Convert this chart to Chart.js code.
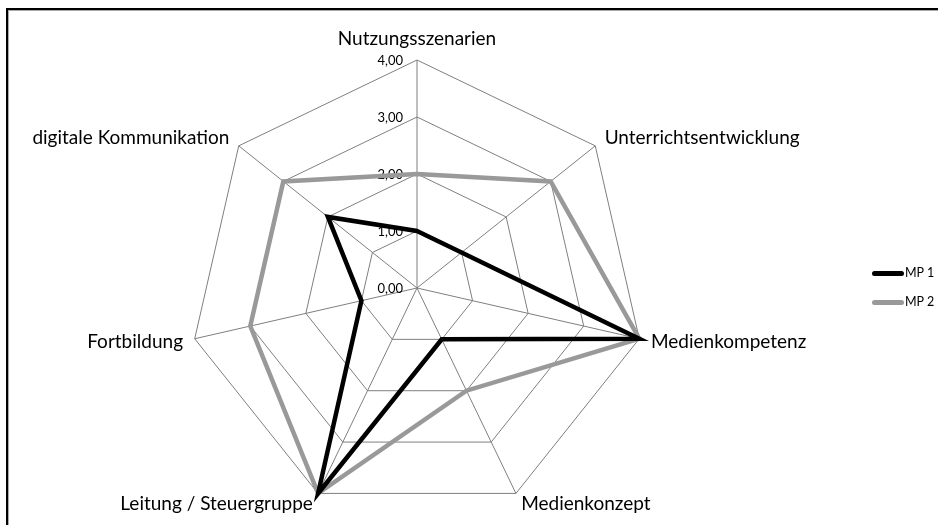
<!DOCTYPE html>
<html>
<head>
<meta charset="utf-8">
<script src="https://cdn.jsdelivr.net/npm/chart.js@4/dist/chart.umd.min.js"></script>
<style>
  html, body { margin: 0; padding: 0; background: #fff; }
  #wrap { position: relative; width: 938px; height: 525px; overflow: hidden; font-family: Lato, sans-serif; }
  #frame { position: absolute; left: 6px; top: 8px; width: 1000px; height: 600px;
           border-left: 2px solid #000; border-top: 2px solid #000; }
  #frame2 { position: absolute; left: 8px; top: 10px; width: 1000px; height: 600px;
            border-left: 1px solid #aaa; border-top: 1px solid #aaa; }
  canvas { position: absolute; left: 0; top: 0; }
  .leg { position: absolute; left: 872px; font-size: 12.5px; color: #000; line-height: 14px; }
  .leg span.ln { display: inline-block; width: 32px; height: 5px; border-radius: 3px; vertical-align: middle; margin-right: 1px; }
</style>
</head>
<body>
<div id="wrap">
  <div id="frame"></div>
  <div id="frame2"></div>
  <canvas id="radar" width="938" height="525"></canvas>
  <div class="leg" style="top:266px"><span class="ln" style="background:#000"></span>MP 1</div>
  <div class="leg" style="top:295px"><span class="ln" style="background:#999"></span>MP 2</div>
</div>
<script>
var labels = ["Nutzungsszenarien", "Unterrichtsentwicklung", "Medienkompetenz", "Medienkonzept",
              "Leitung / Steuergruppe", "Fortbildung", "digitale Kommunikation"];
var mp1 = [1, 1, 4, 1, 4, 1, 2];
var mp2 = [2, 3, 4, 2, 4, 3, 3];
var tickValues = [0, 1, 2, 3, 4];

// tick labels left of the vertical axis, category labels placed like the original
var labelPlugin = {
  id: "labels",
  beforeDatasetsDraw: function(chart) {
    var scale = chart.scales.r;
    var ctx = chart.ctx;
    var i, p, s;
    ctx.save();
    ctx.fillStyle = "#000";

    ctx.font = "13px Lato";
    ctx.textAlign = "right";
    ctx.textBaseline = "middle";
    tickValues.forEach(function(v) {
      p = scale.getPointPositionForValue(0, v);
      ctx.fillText(v.toFixed(2).replace(".", ","), p.x - 14, p.y + 1);
    });

    ctx.font = "19px Lato";
    for (i = 0; i < labels.length; i++) {
      p = scale.getPointPosition(i, scale.drawingArea + 12);
      s = Math.sin(p.angle + Math.PI / 2);
      if (Math.abs(s) < 0.1) {
        ctx.textAlign = "center";
        ctx.textBaseline = "bottom";
      } else {
        ctx.textAlign = s > 0 ? "left" : "right";
        ctx.textBaseline = "middle";
      }
      ctx.fillText(labels[i], p.x, p.y);
    }
    ctx.restore();
  }
};

new Chart(document.getElementById("radar"), {
  type: "radar",
  data: {
    labels: labels,
    datasets: [
      { label: "MP 1", data: mp1, borderColor: "#000", borderWidth: 4.5, fill: false, pointRadius: 0 },
      { label: "MP 2", data: mp2, borderColor: "#999", borderWidth: 4.5, fill: false, pointRadius: 0 }
    ]
  },
  options: {
    responsive: false,
    animation: false,
    layout: { padding: { left: 189, right: 293, top: 60, bottom: 9 } },
    plugins: { legend: { display: false }, tooltip: { enabled: false } },
    elements: { line: { tension: 0 } },
    scales: {
      r: {
        min: 0,
        max: 4,
        ticks: { stepSize: 1, display: false },
        grid: { color: "#7f7f7f", lineWidth: 1 },
        angleLines: { color: "#7f7f7f", lineWidth: 1 },
        pointLabels: { display: false }
      }
    }
  },
  plugins: [labelPlugin]
});
</script>
</body>
</html>
